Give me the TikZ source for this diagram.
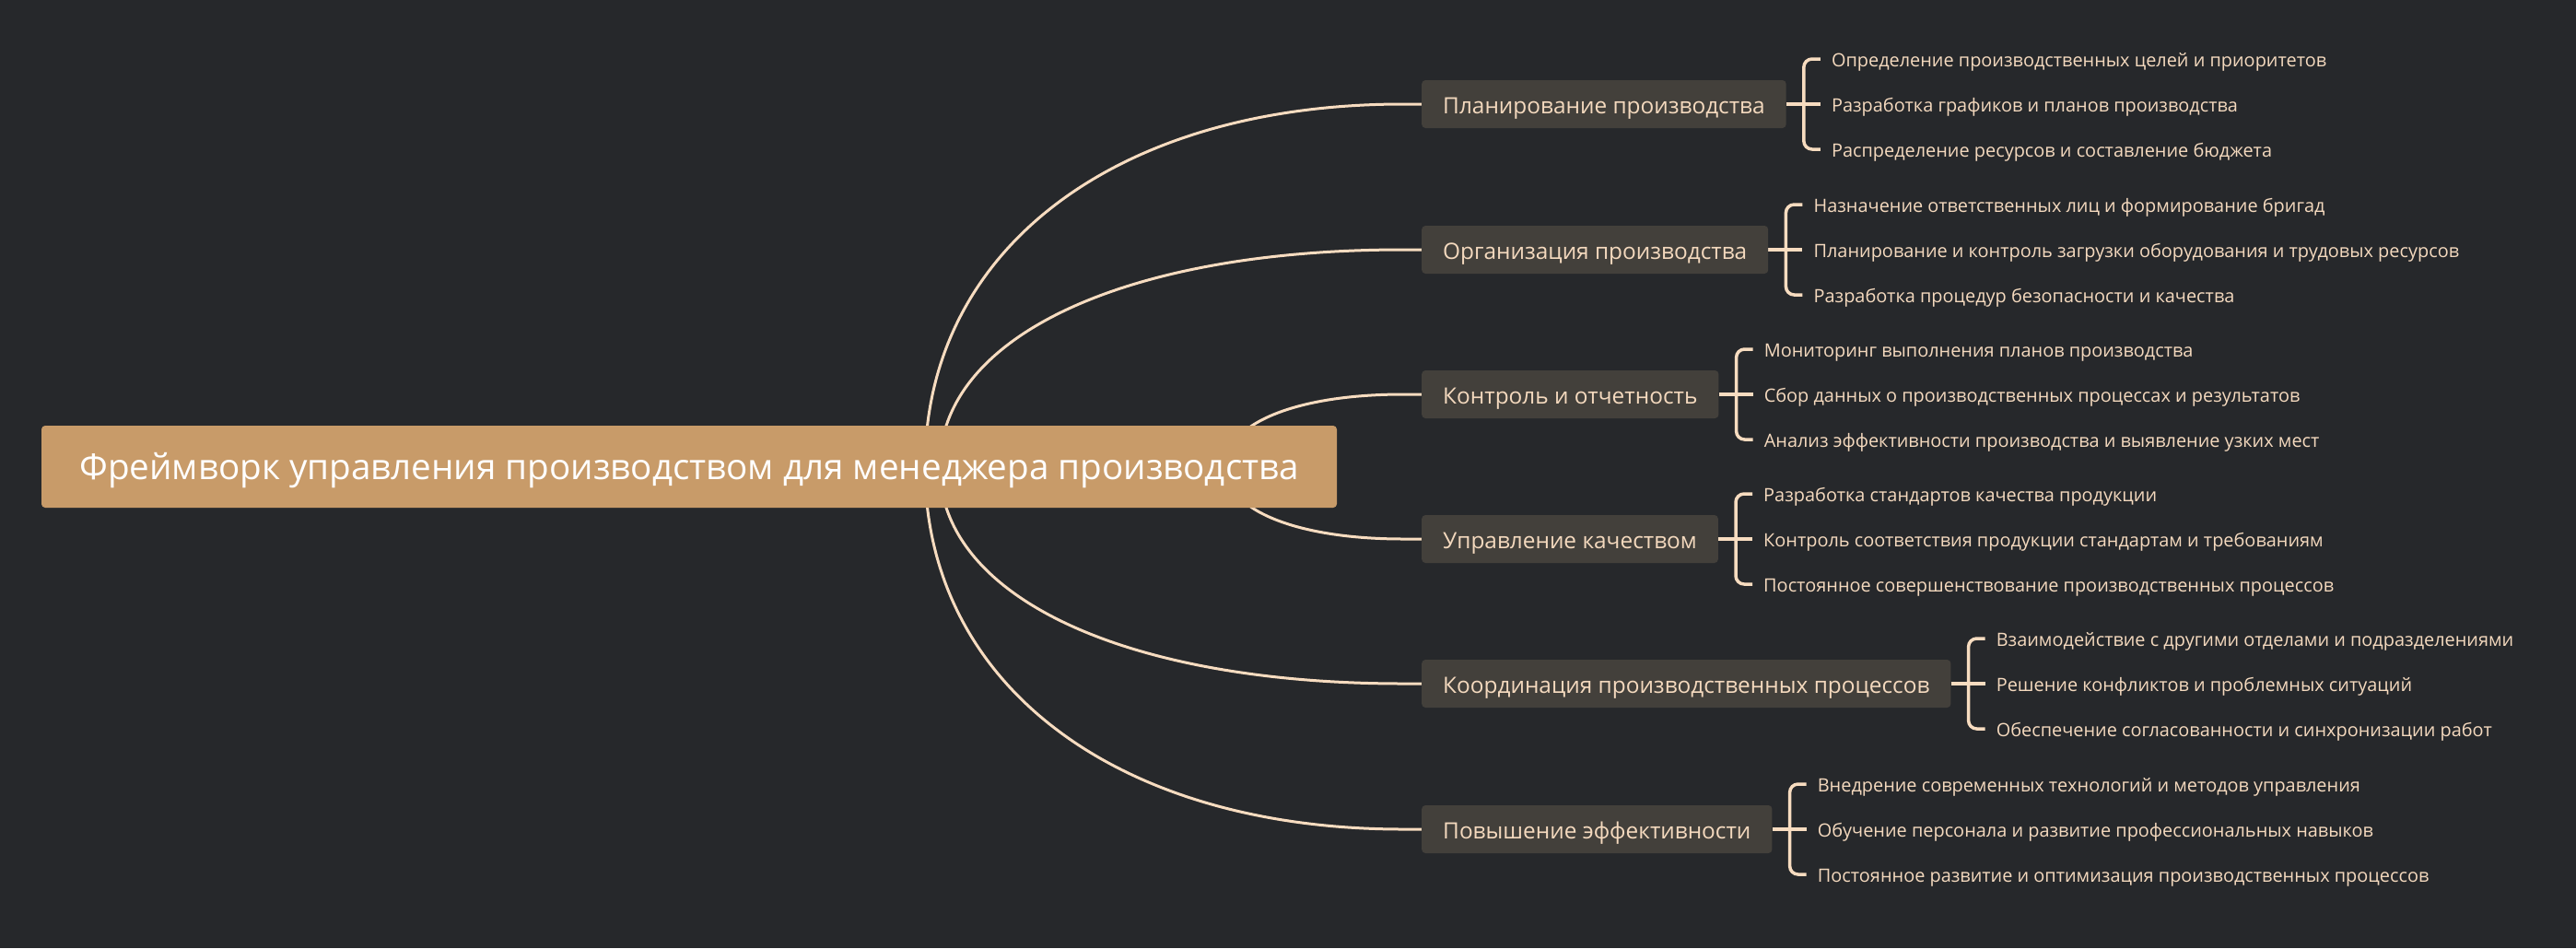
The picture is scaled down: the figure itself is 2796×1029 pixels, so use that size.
\documentclass[tikz,border=0pt]{standalone}
\usepackage{fontspec}
\setmainfont{Open Sans}
\usetikzlibrary{calc}
\definecolor{bgc}{HTML}{26282B}
\definecolor{rootc}{HTML}{C89B69}
\definecolor{brc}{HTML}{43403B}
\definecolor{linec}{HTML}{F7DCC0}
\definecolor{txtc}{HTML}{F4D9BE}
\pgfdeclarelayer{bg}
\pgfdeclarelayer{lines}
\pgfsetlayers{bg,lines,main}
\begin{document}
\begin{tikzpicture}[x=1pt,y=-1pt,
  rootbox/.style={fill=rootc, rounded corners=4pt, text=white, font=\fontsize{38.6}{44}\selectfont,
    minimum height=89pt, minimum width=1406pt, inner sep=0pt, text height=35.5pt, text depth=7.2pt},
  branchbox/.style={fill=brc, rounded corners=4pt, text=txtc, font=\fontsize{24.4}{30}\selectfont,
    minimum height=52pt, inner xsep=23pt, inner ysep=0pt, anchor=west, text height=25pt, text depth=4.55pt},
  leaf/.style={text=txtc, font=\fontsize{19.9}{24}\selectfont, inner sep=0pt, anchor=west,
    text height=21pt, text depth=3.7pt},
  conn/.style={draw=linec, line width=3pt},
  bracket/.style={draw=linec, line width=3.5pt, rounded corners=9pt},
]
\useasboundingbox (0,0) rectangle (2796,1029);
\begin{pgfonlayer}{bg}
\fill[bgc] (0,0) rectangle (2796,1029);
\end{pgfonlayer}

\node[rootbox] (root) at (748,506.5) {Фреймворк управления производством для менеджера производства};

\node[branchbox] (b1) at (1543,113) {Планирование производства};
\node[branchbox] (b2) at (1543,271) {Организация производства};
\node[branchbox] (b3) at (1543,428) {Контроль и отчетность};
\node[branchbox] (b4) at (1543,585) {Управление качеством};
\node[branchbox] (b5) at (1543,742) {Координация производственных процессов};
\node[branchbox] (b6) at (1543,900) {Повышение эффективности};

\node[leaf] (ta1) at ($(b1.east)+(49,-49)$) {Определение производственных целей и приоритетов};
\node[leaf] (tb1) at ($(b1.east)+(49,0)$) {Разработка графиков и планов производства};
\node[leaf] (tc1) at ($(b1.east)+(49,49)$) {Распределение ресурсов и составление бюджета};

\node[leaf] (ta2) at ($(b2.east)+(49,-49)$) {Назначение ответственных лиц и формирование бригад};
\node[leaf] (tb2) at ($(b2.east)+(49,0)$) {Планирование и контроль загрузки оборудования и трудовых ресурсов};
\node[leaf] (tc2) at ($(b2.east)+(49,49)$) {Разработка процедур безопасности и качества};

\node[leaf] (ta3) at ($(b3.east)+(49,-49)$) {Мониторинг выполнения планов производства};
\node[leaf] (tb3) at ($(b3.east)+(49,0)$) {Сбор данных о производственных процессах и результатов};
\node[leaf] (tc3) at ($(b3.east)+(49,49)$) {Анализ эффективности производства и выявление узких мест};

\node[leaf] (ta4) at ($(b4.east)+(49,-49)$) {Разработка стандартов качества продукции};
\node[leaf] (tb4) at ($(b4.east)+(49,0)$) {Контроль соответствия продукции стандартам и требованиям};
\node[leaf] (tc4) at ($(b4.east)+(49,49)$) {Постоянное совершенствование производственных процессов};

\node[leaf] (ta5) at ($(b5.east)+(49,-49)$) {Взаимодействие с другими отделами и подразделениями};
\node[leaf] (tb5) at ($(b5.east)+(49,0)$) {Решение конфликтов и проблемных ситуаций};
\node[leaf] (tc5) at ($(b5.east)+(49,49)$) {Обеспечение согласованности и синхронизации работ};

\node[leaf] (ta6) at ($(b6.east)+(49,-49)$) {Внедрение современных технологий и методов управления};
\node[leaf] (tb6) at ($(b6.east)+(49,0)$) {Обучение персонала и развитие профессиональных навыков};
\node[leaf] (tc6) at ($(b6.east)+(49,49)$) {Постоянное развитие и оптимизация производственных процессов};

\begin{pgfonlayer}{lines}
\foreach \b/\dx in {1/256, 2/272, 3/582, 4/582, 5/272, 6/256} {
  \coordinate (s\b) at ($(root.center)+(\dx,0)$);
  \coordinate (e\b) at ($(b\b.west)+(-20,0)$);
  \coordinate (k\b) at (s\b |- b\b.west);
  \draw[conn] (s\b) .. controls ($(s\b)!0.6!(k\b)$) and ($(e\b)!0.6!(k\b)$) .. (e\b) -- (b\b.west);
  \coordinate (v\b) at ($(b\b.east)+(19,0)$);
  \draw[bracket] ($(ta\b.west)+(-12,0)$) -- (v\b |- ta\b.west) -- (v\b |- tc\b.west) -- ($(tc\b.west)+(-12,0)$);
  \draw[bracket] (b\b.east) -- ($(tb\b.west)+(-12,0)$);
}
\end{pgfonlayer}
\end{tikzpicture}
\end{document}
